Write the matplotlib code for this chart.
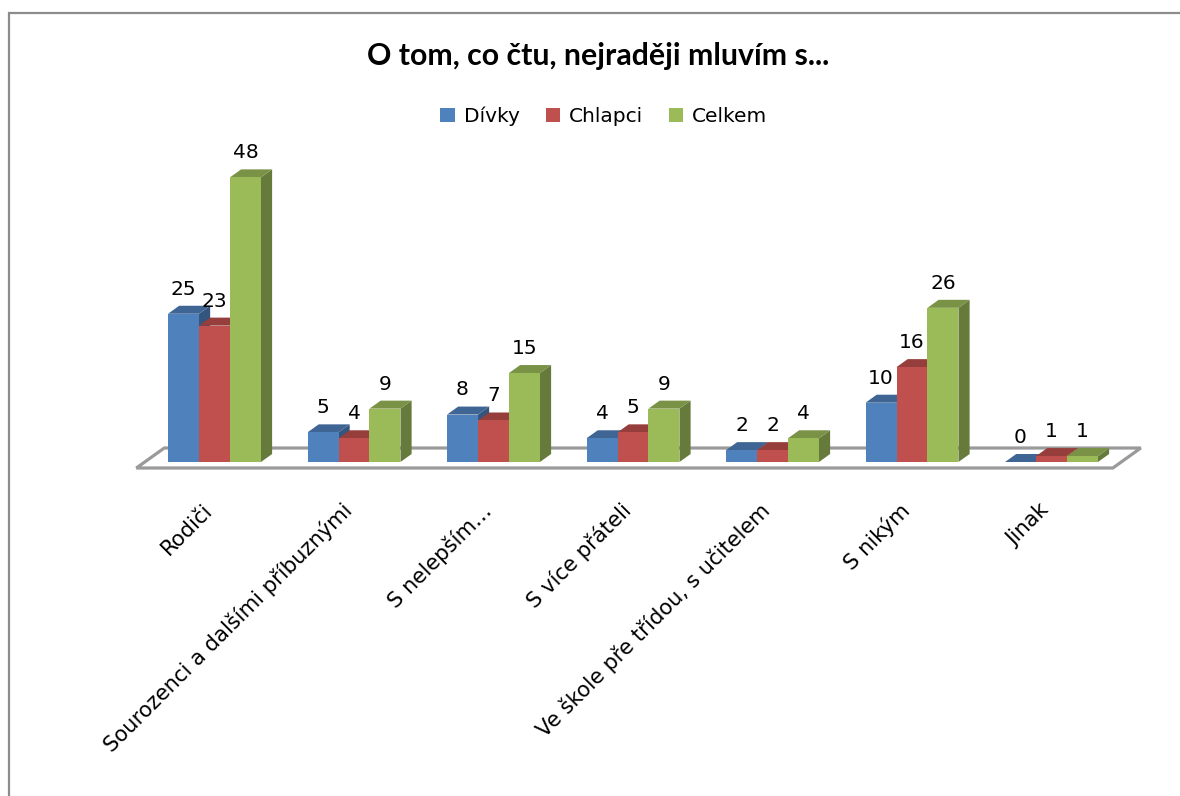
import matplotlib.pyplot as plt
import matplotlib.colors as mcolors
from matplotlib.patches import Polygon, Rectangle, Patch

categories = ["Rodiči", "Sourozenci a dalšími příbuznými", "S nelepším…",
              "S více přáteli", "Ve škole pře třídou, s učitelem", "S nikým", "Jinak"]
series_names = ["Dívky", "Chlapci", "Celkem"]
divky = [25, 5, 8, 4, 2, 10, 0]
chlapci = [23, 4, 7, 5, 2, 16, 1]
celkem = [48, 9, 15, 9, 4, 26, 1]
colors = ["#4F81BD", "#C0504D", "#9BBB59"]

plt.rcParams["font.family"] = ["DejaVu Sans"]
FS = 14.5

def shade(c, f):
    r, g, b = mcolors.to_rgb(c)
    return (r * f, g * f, b * f)

fig = plt.figure(figsize=(11.8, 7.96), dpi=100)
ax = fig.add_axes([0, 0, 1, 1])
ax.set_xlim(-214.5 / 139.5, 965.5 / 139.5)
ax.set_ylim((462 - 796) / 5.93, 462 / 5.93)
ax.axis("off")

# 3d look: floor depth vector, bars take the middle 40 % of it
DX, DY = 0.2, 3.37
bdx, bdy = 0.4 * DX, 0.4 * DY
W = 0.222
n = len(categories)

floor = Polygon([(-0.5 - 0.3 * DX, -0.3 * DY), (n - 0.5 - 0.3 * DX, -0.3 * DY),
                 (n - 0.5 + 0.7 * DX, 0.7 * DY), (-0.5 + 0.7 * DX, 0.7 * DY)],
                closed=True, facecolor="white", edgecolor="#9a9a9a", lw=2.3, zorder=1)
ax.add_patch(floor)

z = 2
for i in range(n):
    for j, vals in enumerate([divky, chlapci, celkem]):
        v = vals[i]
        x0 = i - 1.5 * W + j * W
        c = colors[j]
        side = Polygon([(x0 + W, 0), (x0 + W + bdx, bdy), (x0 + W + bdx, v + bdy), (x0 + W, v)],
                       closed=True, facecolor=shade(c, 0.66), edgecolor="none", zorder=z)
        top = Polygon([(x0, v), (x0 + bdx, v + bdy), (x0 + W + bdx, v + bdy), (x0 + W, v)],
                      closed=True, facecolor=shade(c, 0.78), edgecolor="none", zorder=z + 0.001)
        ax.add_patch(side)
        ax.add_patch(top)
        ax.bar(x0, v, W, align="edge", color=c, edgecolor="none", zorder=z + 0.002)
        ax.annotate(str(v), (x0 + W / 2, v + bdy), xytext=(0, 8), textcoords="offset points",
                    ha="center", va="baseline", fontsize=FS, zorder=50)
        z += 0.01

for i, lab in enumerate(categories):
    ax.text(i - 0.04, -7.6, lab, rotation=45, ha="right", va="center",
            rotation_mode="anchor", fontsize=15.2)

fig.text(598 / 1180, 1 - 65 / 796, "O tom, co čtu, nejraději mluvím s...",
         ha="center", va="baseline", fontsize=21.8, fontweight="bold", family=["Lato", "DejaVu Sans"])

handles = [Patch(facecolor=c, edgecolor="none") for c in colors]
ax.legend(handles, series_names, loc="center", bbox_to_anchor=(604 / 1180, 1 - 116 / 796),
          bbox_transform=fig.transFigure, ncol=3, frameon=False, fontsize=FS,
          handlelength=0.7, handleheight=0.7, handletextpad=0.45, columnspacing=1.3)

border = Rectangle((9 / 1180, -0.1), 1.0, 1.1 - 13 / 796, transform=fig.transFigure,
                   fill=False, edgecolor="#8c8c8c", lw=1.6)
fig.patches.append(border)

fig.savefig("out.png", dpi=100)
